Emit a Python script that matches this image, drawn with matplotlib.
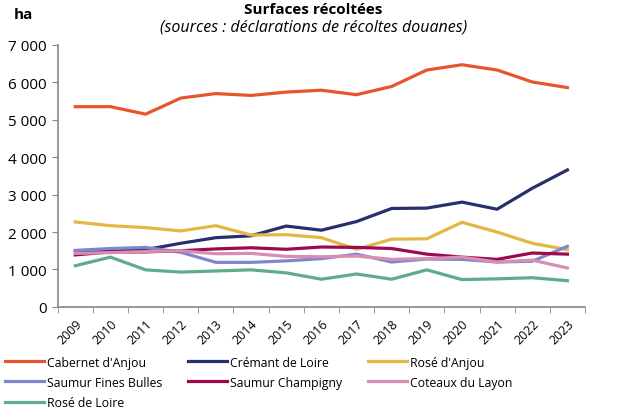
import matplotlib.pyplot as plt
import numpy as np

plt.rcParams['font.family'] = ['Open Sans', 'DejaVu Sans']

years = [str(y) for y in range(2009, 2024)]

cabernet_anjou = [5350, 5350, 5150, 5580, 5700, 5650, 5740, 5790, 5670, 5890, 6330, 6470, 6330, 6010, 5860]
cremant_loire = [1500, 1520, 1530, 1700, 1850, 1900, 2160, 2050, 2280, 2630, 2640, 2800, 2610, 3170, 3660]
rose_anjou = [2270, 2170, 2120, 2030, 2170, 1920, 1930, 1850, 1540, 1810, 1820, 2260, 2000, 1700, 1530]
saumur_fines_bulles = [1510, 1560, 1590, 1460, 1190, 1190, 1230, 1290, 1410, 1200, 1280, 1270, 1200, 1220, 1620]
saumur_champigny = [1390, 1470, 1470, 1500, 1550, 1580, 1540, 1600, 1590, 1560, 1410, 1330, 1270, 1440, 1410]
coteaux_layon = [1430, 1450, 1480, 1500, 1420, 1430, 1350, 1340, 1360, 1270, 1290, 1330, 1200, 1250, 1040]
rose_loire = [1100, 1330, 990, 930, 960, 990, 910, 740, 880, 740, 990, 730, 750, 780, 700]

series = [
    ("Cabernet d'Anjou", cabernet_anjou, '#e8552d'),
    ("Crémant de Loire", cremant_loire, '#27306b'),
    ("Rosé d'Anjou", rose_anjou, '#e2b845'),
    ("Saumur Fines Bulles", saumur_fines_bulles, '#7f86cf'),
    ("Saumur Champigny", saumur_champigny, '#9b0a4f'),
    ("Coteaux du Layon", coteaux_layon, '#d88db3'),
    ("Rosé de Loire", rose_loire, '#5fac8a'),
]

fig = plt.figure(figsize=(6.21, 4.10), dpi=100)
ax = fig.add_axes([0.093, 0.249, 0.849, 0.639])

x = np.arange(len(years))
lines = []
for name, vals, col in series:
    ln, = ax.plot(x, vals, color=col, linewidth=2.3, label=name)
    lines.append(ln)

ax.set_xlim(-0.5, len(years) - 0.5)
ax.set_ylim(0, 7000)
ax.set_yticks(range(0, 7001, 1000))
ax.set_yticklabels([f"{v:,}".replace(',', ' ') for v in range(0, 7001, 1000)], fontsize=11)
ax.set_xticks(x)
ax.set_xticklabels(years, rotation=45, fontsize=9, ha='right', rotation_mode='anchor')
ax.set_xticks(np.arange(-0.5, len(years)), minor=True)
ax.tick_params(axis='x', which='major', length=0, pad=7)
ax.tick_params(axis='x', which='minor', length=4, color='#888888')
ax.tick_params(axis='y', length=4, color='#888888', pad=4)

for s in ['top', 'right']:
    ax.spines[s].set_visible(False)
for s in ['left', 'bottom']:
    ax.spines[s].set_color('#888888')
    ax.spines[s].set_linewidth(1.2)

fig.text(0.505, 0.975, "Surfaces récoltées", ha='center', va='center', fontsize=11, fontweight='bold')
fig.text(0.505, 0.932, "(sources : déclarations de récoltes douanes)", ha='center', va='center', fontsize=11.5, style='italic')
fig.text(0.022, 0.963, "ha", ha='left', va='center', fontsize=11, fontweight='bold')

# legend filled row by row, matplotlib fills by column
order = [0, 3, 6, 1, 4, 2, 5]
fig.legend([lines[i] for i in order], [series[i][0] for i in order],
           loc='upper left', bbox_to_anchor=(0.0, 0.142), ncol=3, frameon=False, fontsize=8.8,
           handlelength=3.2, handletextpad=0.25, columnspacing=2.1, labelspacing=0.58, borderaxespad=0)

fig.savefig('out.png', dpi=100)
